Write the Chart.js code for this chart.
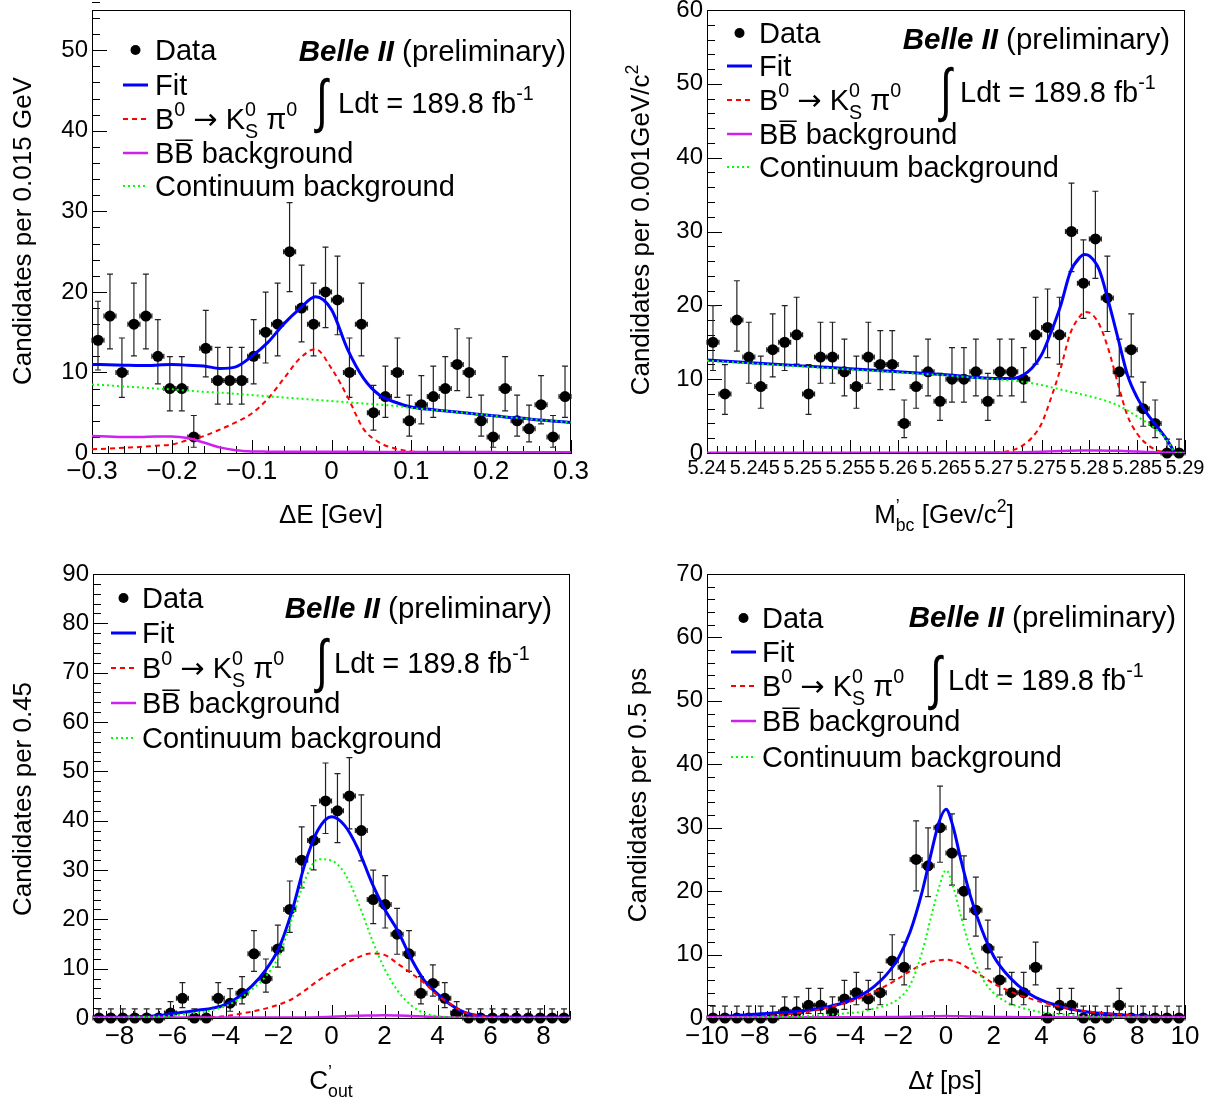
<!DOCTYPE html>
<html>
<head>
<meta charset="utf-8">
<script src="https://cdn.jsdelivr.net/npm/chart.js@4.4.1/dist/chart.umd.min.js"></script>
<style>
  html, body { margin: 0; padding: 0; background: #fff; }
  body { width: 1211px; height: 1105px; position: relative; overflow: hidden; }
  canvas { position: absolute; }
</style>
</head>
<body>
<canvas id="dE" width="605" height="550" style="left:0;top:0"></canvas>
<canvas id="mbc" width="606" height="550" style="left:605px;top:0"></canvas>
<canvas id="cout" width="605" height="555" style="left:0;top:550px"></canvas>
<canvas id="dt" width="606" height="555" style="left:605px;top:550px"></canvas>
<script>
// ---- Delta E panel ----
const dE_bins = [-0.3, 0.3, 40];
const dE_counts = [14, 17, 10, 16, 17, 12, 8, 8, 2, 13, 9, 9, 9, 12, 15, 16, 25, 18, 16, 20,
  19, 10, 16, 5, 7, 10, 4, 6, 7, 8, 11, 10, 4, 2, 8, 4, 3, 6, 2, 7];
const dE_grid = [-0.30, -0.28, -0.26, -0.24, -0.22, -0.20, -0.18, -0.16, -0.14, -0.12, -0.10,
  -0.08, -0.06, -0.04, -0.02, 0.00, 0.02, 0.04, 0.06, 0.08, 0.10, 0.12, 0.14, 0.16, 0.18,
  0.20, 0.22, 0.24, 0.26, 0.28, 0.30];
const dE_fit = [11.0, 10.95, 10.9, 10.85, 10.9, 11.0, 10.9, 10.8, 10.5, 10.7, 12.0, 13.7, 16.0,
  17.9, 19.4, 17.8, 12.9, 9.3, 7.2, 6.3, 5.7, 5.45, 5.25, 5.05, 4.85, 4.65, 4.45, 4.3, 4.1, 3.95, 3.8];
const dE_sig = [0.45, 0.55, 0.65, 0.75, 0.9, 1.05, 1.6, 2.1, 2.9, 3.8, 4.9, 6.7, 9.2, 11.7, 12.9,
  10.5, 7.0, 3.0, 1.3, 0.55, 0.2, 0.1, 0.06, 0.05, 0.05, 0.05, 0.05, 0.05, 0.05, 0.05, 0.05];
const dE_bb = [2.1, 2.05, 2.0, 2.0, 2.05, 2.05, 1.85, 1.3, 0.7, 0.35, 0.2, 0.17, 0.15, 0.15, 0.15,
  0.15, 0.14, 0.14, 0.13, 0.13, 0.12, 0.12, 0.12, 0.11, 0.11, 0.11, 0.1, 0.1, 0.1, 0.1, 0.1];
const dE_cont = [8.5, 8.4, 8.25, 8.15, 8.0, 7.9, 7.75, 7.6, 7.5, 7.35, 7.2, 7.05, 6.9, 6.75, 6.6,
  6.45, 6.3, 6.15, 6.0, 5.85, 5.6, 5.4, 5.25, 5.05, 4.85, 4.65, 4.45, 4.3, 4.1, 3.95, 3.8];
const dE_xticks = [-0.3, -0.2, -0.1, 0, 0.1, 0.2, 0.3];
const dE_yticks = [0, 10, 20, 30, 40, 50];

// ---- Mbc panel ----
const mbc_bins = [5.24, 5.29, 40];
const mbc_counts = [15, 8, 18, 13, 9, 14, 15, 16, 8, 13, 13, 11, 9, 13, 12, 12, 4, 9, 11, 7,
  10, 10, 11, 7, 11, 11, 10, 16, 17, 16, 30, 23, 29, 21, 11, 14, 6, 4, 0, 0];
const mbc_grid = [5.240, 5.245, 5.250, 5.255, 5.260, 5.265, 5.270, 5.272, 5.273, 5.274, 5.275,
  5.276, 5.277, 5.278, 5.279, 5.2795, 5.280, 5.281, 5.282, 5.283, 5.284, 5.285, 5.286, 5.287,
  5.288, 5.2885, 5.289, 5.290];
const mbc_fit = [12.6, 12.2, 11.8, 11.4, 11.0, 10.6, 10.1, 10.1, 10.5, 11.5, 13.3, 16.4, 20.0,
  24.5, 26.5, 26.9, 26.7, 24.9, 20.5, 15.5, 10.5, 7.5, 5.4, 3.7, 2.0, 1.0, 0, 0];
const mbc_sig = [0, 0, 0, 0, 0, 0, 0.05, 0.4, 1.0, 2.1, 4.0, 7.5, 11.5, 16.2, 18.5, 19.1, 19.0,
  17.5, 14.0, 9.3, 5.0, 2.6, 1.2, 0.4, 0.1, 0.05, 0, 0];
const mbc_bb = [0.05, 0.05, 0.05, 0.05, 0.05, 0.05, 0.06, 0.08, 0.1, 0.13, 0.17, 0.22, 0.27, 0.31,
  0.34, 0.35, 0.35, 0.34, 0.32, 0.29, 0.25, 0.2, 0.15, 0.1, 0.05, 0.03, 0, 0];
const mbc_cont = [12.5, 12.1, 11.7, 11.3, 10.9, 10.5, 10.0, 9.8, 9.65, 9.45, 9.2, 8.9, 8.6, 8.3,
  8.0, 7.85, 7.7, 7.35, 6.95, 6.45, 5.75, 4.95, 4.1, 3.2, 1.9, 1.0, 0, 0];
const mbc_xticks = [5.24, 5.245, 5.25, 5.255, 5.26, 5.265, 5.27, 5.275, 5.28, 5.285, 5.29];
const mbc_yticks = [0, 10, 20, 30, 40, 50, 60];

// ---- C'out panel ----
const cout_bins = [-9, 9, 40];
const cout_counts = [0, 0, 0, 0, 0, 0, 1, 4, 0, 0, 4, 3, 5, 13, 8, 14, 22, 32, 36, 44,
  42, 45, 38, 24, 23, 17, 13, 5, 7, 4, 1, 0, 0, 0, 0, 0, 0, 0, 0, 0];
const cout_grid = [-9, -8, -7, -6.5, -6, -5.5, -5, -4.5, -4, -3.5, -3, -2.5, -2, -1.5, -1, -0.5,
  0, 0.5, 1, 1.5, 2, 2.5, 3, 3.5, 4, 4.5, 5, 5.5, 6, 7, 8, 9];
const cout_fit = [0.02, 0.1, 0.3, 0.5, 0.9, 1.2, 1.6, 2.0, 2.7, 4.3, 6.5, 9.6, 14.0, 21.5, 31.3,
  38.2, 40.8, 39.0, 34.3, 27.7, 22.1, 17.7, 12.1, 7.6, 4.9, 2.7, 1.2, 0.5, 0.2, 0.05, 0.02, 0.01];
const cout_sig = [0, 0, 0, 0, 0, 0, 0.05, 0.15, 0.4, 0.8, 1.3, 1.9, 2.7, 3.8, 5.6, 7.6, 9.3, 10.9,
  12.3, 13.1, 12.8, 11.0, 9.1, 7.1, 4.6, 2.8, 1.2, 0.5, 0.15, 0.02, 0, 0];
const cout_bb = [0.1, 0.1, 0.1, 0.1, 0.1, 0.1, 0.1, 0.1, 0.1, 0.1, 0.1, 0.1, 0.1, 0.1, 0.1, 0.15,
  0.25, 0.35, 0.45, 0.5, 0.55, 0.5, 0.4, 0.3, 0.2, 0.12, 0.05, 0.05, 0.05, 0.05, 0.05, 0.05];
const cout_cont = [0, 0.05, 0.2, 0.3, 0.5, 0.8, 1.1, 1.6, 2.4, 3.8, 5.8, 8.3, 12.4, 20.0, 28.0,
  32.2, 31.9, 29.3, 23.5, 16.3, 10.0, 5.5, 2.6, 1.0, 0.4, 0.15, 0.05, 0.02, 0, 0, 0, 0];
const cout_xticks = [-8, -6, -4, -2, 0, 2, 4, 6, 8];
const cout_yticks = [0, 10, 20, 30, 40, 50, 60, 70, 80, 90];

// ---- Delta t panel ----
const dt_bins = [-10, 10, 40];
const dt_counts = [0, 0, 0, 0, 0, 0, 1, 1, 2, 2, 1, 3, 4, 3, 4, 9, 8, 25, 24, 30,
  26, 20, 17, 11, 6, 4, 4, 8, 0, 2, 2, 0, 0, 0, 2, 0, 0, 0, 0, 0];
const dt_grid = [-10, -9, -8, -7, -6, -5, -4, -3.5, -3, -2.5, -2, -1.5, -1, -0.6, -0.3, 0, 0.3,
  0.6, 1, 1.5, 2, 2.5, 3, 3.5, 4, 5, 6, 7, 8, 9, 10];
const dt_fit = [0.15, 0.3, 0.6, 0.85, 1.1, 1.7, 2.8, 3.7, 5.0, 6.8, 9.4, 13.6, 19.9, 26.3, 30.8,
  32.9, 30.1, 25.3, 19.5, 13.9, 9.7, 7.1, 5.2, 3.8, 2.8, 1.6, 0.9, 0.6, 0.35, 0.2, 0.1];
const dt_sig = [0.1, 0.15, 0.25, 0.45, 0.85, 1.6, 2.6, 3.3, 4.1, 5.1, 6.2, 7.4, 8.4, 8.9, 9.1, 9.2,
  9.0, 8.6, 7.7, 6.6, 5.4, 4.5, 3.7, 3.1, 2.5, 1.6, 1.0, 0.65, 0.35, 0.2, 0.1];
const dt_bb = [0.1, 0.1, 0.1, 0.1, 0.1, 0.1, 0.1, 0.12, 0.13, 0.15, 0.17, 0.2, 0.24, 0.27, 0.29,
  0.3, 0.29, 0.27, 0.24, 0.2, 0.17, 0.15, 0.13, 0.12, 0.1, 0.1, 0.1, 0.1, 0.1, 0.1, 0.1];
const dt_cont = [0, 0.05, 0.1, 0.2, 0.3, 0.5, 0.8, 1.0, 1.5, 2.0, 3.0, 5.2, 10.4, 16.3, 20.5, 23.3,
  20.7, 16.4, 11.1, 6.4, 3.9, 2.6, 1.8, 1.3, 0.9, 0.5, 0.3, 0.15, 0.1, 0.05, 0];
const dt_xticks = [-10, -8, -6, -4, -2, 0, 2, 4, 6, 8, 10];
const dt_yticks = [0, 10, 20, 30, 40, 50, 60, 70];

const FONT = '"Liberation Sans", Arial, Helvetica, sans-serif';

const STYLE = {
  fit:  { color: '#0000ff', width: 3,   dash: [] },
  sig:  { color: '#ff0000', width: 2,   dash: [5, 4] },
  bb:   { color: '#d020f0', width: 2.5, dash: [] },
  cont: { color: '#00ff00', width: 2,   dash: [2, 3] },
};

const LEGEND = [
  { key: null,   parts: [{ t: 'Data' }] },
  { key: 'fit',  parts: [{ t: 'Fit' }] },
  { key: 'sig',  parts: [{ t: 'B' }, { t: '0', sup: 1 }, { t: ' ' }, { t: '\u2192', fam: '"DejaVu Sans"' },
                         { t: ' K' }, { t: '0', sup: 1, keep: 1 }, { t: 'S', sub: 1 }, { t: ' \u03c0' }, { t: '0', sup: 1 }] },
  { key: 'bb',   parts: [{ t: 'B' }, { t: 'B', ov: 1 }, { t: ' background' }] },
  { key: 'cont', parts: [{ t: 'Continuum background' }] },
];

// layout + text placement, page coordinates
const PANELS = {
  dE: {
    ox: 0, oy: 0, yW: 92, padR: 34, padT: 10, xH: 97, xFont: 26,
    bins: dE_bins, counts: dE_counts, grid: dE_grid,
    fit: dE_fit, sig: dE_sig, bb: dE_bb, cont: dE_cont,
    xticks: dE_xticks, yticks: dE_yticks, ymax: 55, xMinor: 0.02, yMinor: 2,
    ytitle: { x: 22, y: 231, parts: [{ t: 'Candidates per 0.015 GeV' }] },
    xtitle: { x: 331, y: 514, parts: [{ t: '\u0394E [Gev]' }] },
    leg: { l0: 123, l1: 148, tx: 155, rows: [50, 85, 119, 153, 186] },
    belle: { x: 566, y: 50 }, lum: { ix: 316, x: 338, y: 103 },
  },
  mbc: {
    ox: 605, oy: 0, yW: 102, padR: 26, padT: 10, xH: 97, xFont: 20,
    bins: mbc_bins, counts: mbc_counts, grid: mbc_grid,
    fit: mbc_fit, sig: mbc_sig, bb: mbc_bb, cont: mbc_cont,
    xticks: mbc_xticks, yticks: mbc_yticks, ymax: 60, xMinor: 0.001, yMinor: 2,
    ytitle: { x: 640, y: 230, parts: [{ t: 'Candidates per 0.001GeV/c' }, { t: '2', sup: 1 }] },
    xtitle: { x: 944, y: 514, parts: [{ t: 'M' }, { t: '\u2019', sup: 1, keep: 1 }, { t: 'bc', sub: 1 },
                                      { t: ' [Gev/c' }, { t: '2', sup: 1 }, { t: ']' }] },
    leg: { l0: 727, l1: 752, tx: 759, rows: [33, 66, 100, 134, 167] },
    belle: { x: 1170, y: 38 }, lum: { ix: 940, x: 960, y: 92 },
  },
  cout: {
    ox: 0, oy: 550, yW: 93, padR: 35, padT: 24, xH: 87, xFont: 26,
    bins: cout_bins, counts: cout_counts, grid: cout_grid,
    fit: cout_fit, sig: cout_sig, bb: cout_bb, cont: cout_cont,
    xticks: cout_xticks, yticks: cout_yticks, ymax: 90, xMinor: 0.5, yMinor: 2,
    ytitle: { x: 22, y: 799, parts: [{ t: 'Candidates per 0.45' }] },
    xtitle: { x: 331, y: 1080, parts: [{ t: 'C' }, { t: '\u2019', sup: 1, keep: 1 }, { t: 'out', sub: 1 }] },
    leg: { l0: 111, l1: 136, tx: 142, rows: [598, 633, 668, 703, 738] },
    belle: { x: 552, y: 607 }, lum: { ix: 316, x: 334, y: 663 },
  },
  dt: {
    ox: 605, oy: 550, yW: 102, padR: 26, padT: 24, xH: 87, xFont: 26,
    bins: dt_bins, counts: dt_counts, grid: dt_grid,
    fit: dt_fit, sig: dt_sig, bb: dt_bb, cont: dt_cont,
    xticks: dt_xticks, yticks: dt_yticks, ymax: 70, xMinor: 0.5, yMinor: 2,
    ytitle: { x: 637, y: 795, parts: [{ t: 'Candidates per 0.5 ps' }] },
    xtitle: { x: 945, y: 1080, parts: [{ t: '\u0394' }, { t: 't', it: 1 }, { t: ' [ps]' }] },
    leg: { l0: 731, l1: 756, tx: 762, rows: [618, 652, 686, 721, 757] },
    belle: { x: 1176, y: 616 }, lum: { ix: 930, x: 948, y: 680 },
  },
};

function binCenters(b) {
  const w = (b[1] - b[0]) / b[2];
  return Array.from({ length: b[2] }, (_, i) => b[0] + (i + 0.5) * w);
}

// Poisson (Gehrels) 1-sigma interval, like ROOT's data error bars
function poisUp(n) { return n + Math.sqrt(n + 0.75) + 1; }
function poisLow(n) {
  if (n <= 0) return 0;
  const r = 1 - 1 / (9 * n) - 1 / (3 * Math.sqrt(n));
  return n * r * r * r;
}

function fnt(size, it, b, fam) {
  return (it ? 'italic ' : '') + (b ? 'bold ' : '') + size + 'px ' + (fam || FONT);
}

function richWidth(ctx, parts, size) {
  let w = 0;
  for (const q of parts) {
    ctx.font = fnt(q.sup || q.sub ? size * 0.68 : size, q.it, q.b, q.fam);
    if (!q.keep) w += ctx.measureText(q.t).width;
  }
  return w;
}

function drawRich(ctx, parts, x, y, size, align) {
  const w = richWidth(ctx, parts, size);
  let cx = align === 'center' ? x - w / 2 : align === 'right' ? x - w : x;
  const base = y + 0.36 * size;
  ctx.textAlign = 'left';
  ctx.textBaseline = 'alphabetic';
  ctx.fillStyle = '#000';
  for (const q of parts) {
    const s = q.sup || q.sub ? size * 0.68 : size;
    ctx.font = fnt(s, q.it, q.b, q.fam);
    const dy = q.sup ? -0.45 * size : q.sub ? 0.3 * size : 0;
    ctx.fillText(q.t, cx, base + dy);
    const tw = ctx.measureText(q.t).width;
    if (q.ov) {
      ctx.beginPath();
      ctx.lineWidth = 1.5;
      ctx.strokeStyle = '#000';
      ctx.moveTo(cx + 1, base - 0.8 * size);
      ctx.lineTo(cx + tw - 1, base - 0.8 * size);
      ctx.stroke();
    }
    if (!q.keep) cx += tw;
  }
}

function drawTicks(ctx, scale, majors, minor, lenMaj, lenMin, a) {
  const horiz = scale.isHorizontal();
  const n = Math.round((scale.max - scale.min) / minor);
  ctx.beginPath();
  for (let i = 0; i <= n; i++) {
    const v = scale.min + i * minor;
    const isMaj = majors.some(m => Math.abs(m - v) < minor * 1e-3);
    const len = isMaj ? lenMaj : lenMin;
    const px = Math.round(scale.getPixelForValue(v)) + 0.5;
    if (horiz) { ctx.moveTo(px, a.bottom); ctx.lineTo(px, a.bottom - len); }
    else { ctx.moveTo(a.left, px); ctx.lineTo(a.left + len, px); }
  }
  ctx.stroke();
}

const rootStyle = {
  id: 'rootStyle',
  beforeDatasetsDraw(chart) {
    const p = PANELS[chart.canvas.id];
    const ctx = chart.ctx, xs = chart.scales.x, ys = chart.scales.y, a = chart.chartArea;
    ctx.save();
    ctx.strokeStyle = '#000';
    ctx.lineWidth = 1;
    ctx.strokeRect(a.left + 0.5, a.top + 0.5, a.right - a.left - 1, a.bottom - a.top);
    drawTicks(ctx, xs, p.xticks, p.xMinor, 13, 7, a);
    drawTicks(ctx, ys, p.yticks, p.yMinor, 15, 8, a);

    // error bars of the data points
    const w = (p.bins[1] - p.bins[0]) / p.bins[2];
    const centers = binCenters(p.bins);
    ctx.strokeStyle = '#222';
    ctx.lineWidth = 1.2;
    ctx.beginPath();
    p.counts.forEach((n, i) => {
      const c = centers[i];
      const x0 = xs.getPixelForValue(c - w / 2), x1 = xs.getPixelForValue(c + w / 2);
      const xc = xs.getPixelForValue(c);
      const yc = ys.getPixelForValue(n);
      const yu = ys.getPixelForValue(poisUp(n)), yl = ys.getPixelForValue(poisLow(n));
      ctx.moveTo(x0, yc); ctx.lineTo(x1, yc);
      ctx.moveTo(x0, yc - 2.5); ctx.lineTo(x0, yc + 2.5);
      ctx.moveTo(x1, yc - 2.5); ctx.lineTo(x1, yc + 2.5);
      ctx.moveTo(xc, yl); ctx.lineTo(xc, yu);
      ctx.moveTo(xc - 3, yu); ctx.lineTo(xc + 3, yu);
      if (n > 0) { ctx.moveTo(xc - 3, yl); ctx.lineTo(xc + 3, yl); }
    });
    ctx.stroke();
    ctx.restore();
  },
  afterDraw(chart) {
    const p = PANELS[chart.canvas.id];
    const ctx = chart.ctx;
    const X = v => v - p.ox, Y = v => v - p.oy;
    ctx.save();
    // axis titles
    ctx.save();
    ctx.translate(X(p.ytitle.x), Y(p.ytitle.y));
    ctx.rotate(-Math.PI / 2);
    drawRich(ctx, p.ytitle.parts, 0, 0, 26, 'center');
    ctx.restore();
    drawRich(ctx, p.xtitle.parts, X(p.xtitle.x), Y(p.xtitle.y), 26, 'center');

    // legend
    const L = p.leg;
    LEGEND.forEach((row, i) => {
      const y = Y(L.rows[i]);
      if (!row.key) {
        ctx.beginPath();
        ctx.fillStyle = '#000';
        ctx.arc(X((L.l0 + L.l1) / 2), y, 5, 0, Math.PI * 2);
        ctx.fill();
      } else {
        const st = STYLE[row.key];
        ctx.beginPath();
        ctx.strokeStyle = st.color;
        ctx.lineWidth = st.width;
        ctx.setLineDash(st.dash);
        ctx.moveTo(X(L.l0), y); ctx.lineTo(X(L.l1), y);
        ctx.stroke();
        ctx.setLineDash([]);
      }
      drawRich(ctx, row.parts, X(L.tx), y, 29, 'left');
    });

    // Belle II (preliminary)
    drawRich(ctx, [{ t: 'Belle II', it: 1, b: 1 }, { t: ' (preliminary)' }], X(p.belle.x), Y(p.belle.y), 29.5, 'right');

    // integrated luminosity
    ctx.save();
    ctx.fillStyle = '#000';
    ctx.font = '42px ' + FONT;
    ctx.textAlign = 'left';
    ctx.textBaseline = 'middle';
    ctx.translate(X(p.lum.ix), Y(p.lum.y) + 2);
    ctx.scale(1, 1.4);
    ctx.fillText('\u222b', 0, 0);
    ctx.restore();
    drawRich(ctx, [{ t: 'Ldt = 189.8 fb' }, { t: '-1', sup: 1 }], X(p.lum.x), Y(p.lum.y), 29, 'left');
    ctx.restore();
  },
};

function fmtTick(v) {
  if (Math.abs(v) < 1e-9) return '0';
  return String(+v.toFixed(4)).replace('-', '\u2212');
}

function build(id) {
  const p = PANELS[id];
  const curve = (vals, st) => ({
    type: 'line',
    data: p.grid.map((x, i) => ({ x: x, y: vals[i] })),
    borderColor: st.color,
    borderWidth: st.width,
    borderDash: st.dash,
    pointRadius: 0,
    fill: false,
    cubicInterpolationMode: 'monotone',
  });
  const centers = binCenters(p.bins);
  return new Chart(document.getElementById(id), {
    type: 'scatter',
    data: {
      datasets: [
        curve(p.cont, STYLE.cont),
        curve(p.bb, STYLE.bb),
        curve(p.sig, STYLE.sig),
        curve(p.fit, STYLE.fit),
        {
          type: 'scatter',
          data: centers.map((c, i) => ({ x: c, y: p.counts[i] })),
          pointRadius: 5.5,
          pointBackgroundColor: '#000',
          pointBorderWidth: 0,
          clip: false,
        },
      ],
    },
    options: {
      responsive: false,
      animation: false,
      events: [],
      layout: { padding: { left: 0, right: p.padR, top: p.padT, bottom: 0 } },
      plugins: { legend: { display: false }, tooltip: { enabled: false } },
      scales: {
        x: {
          type: 'linear', min: p.bins[0], max: p.bins[1],
          afterBuildTicks: s => { s.ticks = p.xticks.map(v => ({ value: v })); },
          afterFit: s => { s.height = p.xH; s.paddingLeft = 0; s.paddingRight = 0; },
          ticks: { color: '#000', font: { family: FONT, size: p.xFont }, padding: -5,
                   maxRotation: 0, autoSkip: false, callback: v => fmtTick(v) },
          grid: { display: false },
          border: { display: true, color: '#000', width: 1 },
        },
        y: {
          type: 'linear', min: 0, max: p.ymax,
          afterBuildTicks: s => { s.ticks = p.yticks.map(v => ({ value: v })); },
          afterFit: s => { s.width = p.yW; s.paddingTop = 0; s.paddingBottom = 0; },
          ticks: { color: '#000', font: { family: FONT, size: 24 }, padding: -4,
                   autoSkip: false, callback: v => fmtTick(v) },
          grid: { display: false },
          border: { display: true, color: '#000', width: 1 },
        },
      },
    },
    plugins: [rootStyle],
  });
}

build('dE');
build('mbc');
build('cout');
build('dt');
</script>
</body>
</html>
